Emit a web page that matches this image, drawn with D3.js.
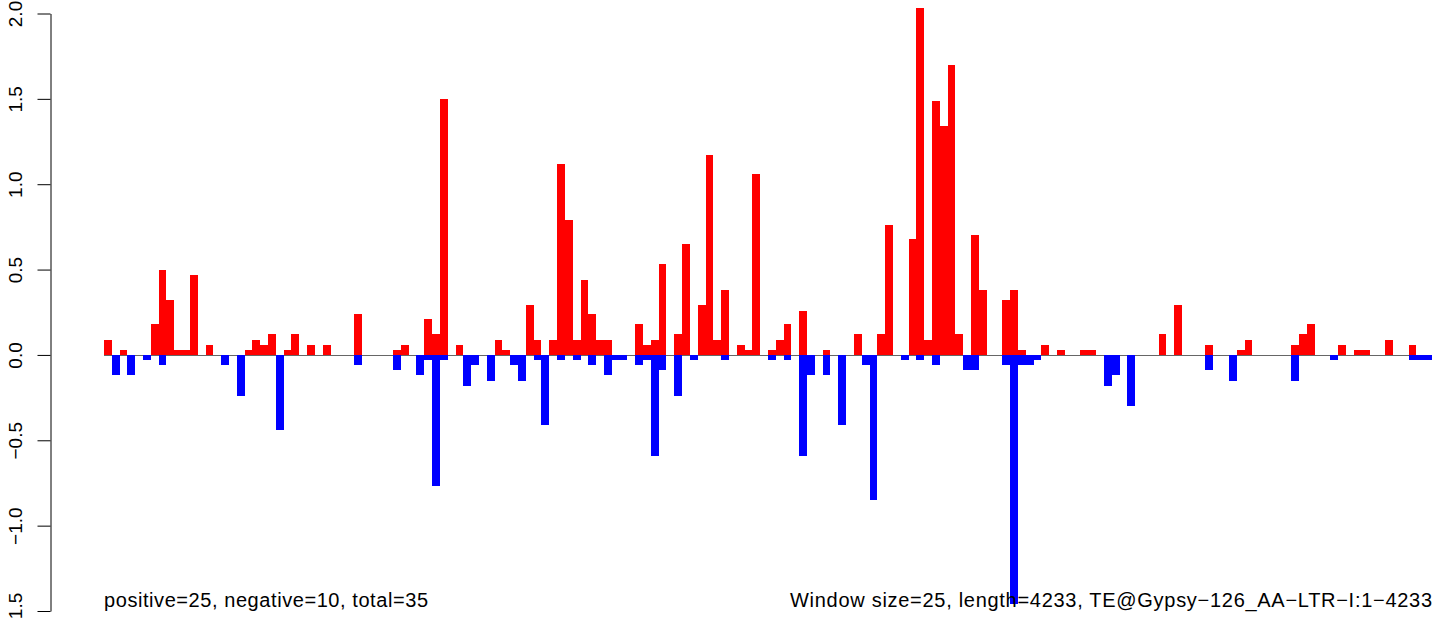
<!DOCTYPE html>
<html>
<head>
<meta charset="utf-8">
<script src="https://cdn.jsdelivr.net/npm/d3@7"></script>
<style>
  body { margin: 0; background: #fff; }
  svg { display: block; }
  text { font-family: "Liberation Sans", Arial, Helvetica, sans-serif; }
</style>
</head>
<body>
<div id="chart"></div>
<script>
// one value per 25bp window
var posValues = [
  0.09, 0, 0.03, 0, 0, 0, 0.18, 0.50, 0.32, 0.03,
  0.03, 0.47, 0, 0.06, 0, 0, 0, 0, 0.03, 0.09,
  0.06, 0.12, 0, 0.03, 0.12, 0, 0.06, 0, 0.06, 0,
  0, 0, 0.24, 0, 0, 0, 0, 0.03, 0.06, 0,
  0, 0.21, 0.12, 1.50, 0, 0.06, 0, 0, 0, 0,
  0.09, 0.03, 0, 0, 0.29, 0.09, 0, 0.09, 1.12, 0.79,
  0.09, 0.44, 0.24, 0.09, 0.09, 0, 0, 0, 0.18, 0.06,
  0.09, 0.53, 0, 0.12, 0.65, 0, 0.29, 1.17, 0.09, 0.38,
  0, 0.06, 0.03, 1.06, 0, 0.03, 0.09, 0.18, 0, 0.26,
  0, 0, 0.03, 0, 0, 0, 0.12, 0, 0, 0.12,
  0.76, 0, 0, 0.68, 2.03, 0.09, 1.49, 1.34, 1.70, 0.12,
  0, 0.70, 0.38, 0, 0, 0.32, 0.38, 0.03, 0, 0,
  0.06, 0, 0.03, 0, 0, 0.03, 0.03, 0, 0, 0,
  0, 0, 0, 0, 0, 0.12, 0, 0.29, 0, 0,
  0, 0.06, 0, 0, 0, 0.03, 0.09, 0, 0, 0,
  0, 0, 0.06, 0.12, 0.18, 0, 0, 0, 0.06, 0,
  0.03, 0.03, 0, 0, 0.09, 0, 0, 0.06, 0, 0
];
var negValues = [
  0, -0.12, 0, -0.12, 0, -0.03, 0, -0.06, 0, 0,
  0, 0, 0, 0, 0, -0.06, 0, -0.24, 0, 0,
  0, 0, -0.44, 0, 0, 0, 0, 0, 0, 0,
  0, 0, -0.06, 0, 0, 0, 0, -0.09, 0, 0,
  -0.12, -0.03, -0.77, -0.03, 0, 0, -0.18, -0.06, 0, -0.15,
  0, 0, -0.06, -0.15, 0, -0.03, -0.41, 0, -0.03, 0,
  -0.03, 0, -0.06, 0, -0.12, -0.03, -0.03, 0, -0.06, -0.03,
  -0.59, -0.09, 0, -0.24, 0, -0.03, 0, 0, 0, -0.03,
  0, 0, 0, 0, 0, -0.03, 0, -0.03, 0, -0.59,
  -0.12, 0, -0.12, 0, -0.41, 0, 0, -0.06, -0.85, 0,
  0, 0, -0.03, 0, -0.03, 0, -0.06, 0, 0, 0,
  -0.09, -0.09, 0, 0, 0, -0.06, -1.46, -0.06, -0.06, -0.03,
  0, 0, 0, 0, 0, 0, 0, 0, -0.18, -0.12,
  0, -0.30, 0, 0, 0, 0, 0, 0, 0, 0,
  0, -0.09, 0, 0, -0.15, 0, 0, 0, 0, 0,
  0, 0, -0.15, 0, 0, 0, 0, -0.03, 0, 0,
  0, 0, 0, 0, 0, 0, 0, -0.03, -0.03, -0.03
];
var yTicks = [-1.5, -1.0, -0.5, 0.0, 0.5, 1.0, 1.5, 2.0];
var leftNote = "positive=25, negative=10, total=35";
var rightNote = "Window size=25, length=4233, TE@Gypsy\u2212126_AA\u2212LTR\u2212I:1\u22124233";

var width = 1449, height = 618;

var svg = d3.select("#chart").append("svg")
    .attr("width", width)
    .attr("height", height)
    .attr("viewBox", [0, 0, width, height]);

var x = d3.scaleLinear().domain([0, posValues.length]).range([104, 1432]);
var y = d3.scaleLinear().domain([-1.5, 2.0]).range([611, 13.5]);

// zero line
svg.append("line")
    .attr("x1", x(0)).attr("x2", x(posValues.length))
    .attr("y1", Math.round(y(0)) + 0.5).attr("y2", Math.round(y(0)) + 0.5)
    .attr("stroke", "#666")
    .attr("stroke-width", 1);

function drawBars(values, color) {
    svg.append("g")
        .attr("shape-rendering", "crispEdges")
      .selectAll("rect")
      .data(values.map((v, i) => ({i: i, v: v})).filter(d => d.v !== 0))
      .join("rect")
        .attr("x", d => x(d.i))
        .attr("width", d => x(d.i + 1) - x(d.i))
        .attr("y", d => y(Math.max(0, d.v)))
        .attr("height", d => Math.abs(y(d.v) - y(0)))
        .attr("fill", color);
}
drawBars(posValues, "red");
drawBars(negValues, "blue");

// y axis, labels turned like R's default
var yAxis = svg.append("g")
    .attr("transform", "translate(50.5,0)")
    .call(d3.axisLeft(y).tickValues(yTicks).tickFormat(d3.format(".1f")).tickSize(13).tickSizeOuter(0));
yAxis.select(".domain").attr("stroke", "#000");
yAxis.selectAll(".tick line").attr("stroke", "#000");
yAxis.selectAll(".tick text")
    .attr("x", null).attr("y", null).attr("dy", null)
    .attr("transform", "translate(-29,0) rotate(-90)")
    .attr("text-anchor", "middle")
    .attr("fill", "#000")
    .style("font-size", "19px")
    .style("font-family", "\"Liberation Sans\", Arial, Helvetica, sans-serif");

svg.append("text")
    .attr("x", 104).attr("y", 607)
    .attr("text-anchor", "start")
    .attr("textLength", 324)
    .attr("lengthAdjust", "spacing")
    .style("font-size", "20px")
    .text(leftNote);

svg.append("text")
    .attr("x", 1432).attr("y", 607)
    .attr("text-anchor", "end")
    .attr("textLength", 642)
    .attr("lengthAdjust", "spacing")
    .style("font-size", "20px")
    .text(rightNote);
</script>
</body>
</html>
